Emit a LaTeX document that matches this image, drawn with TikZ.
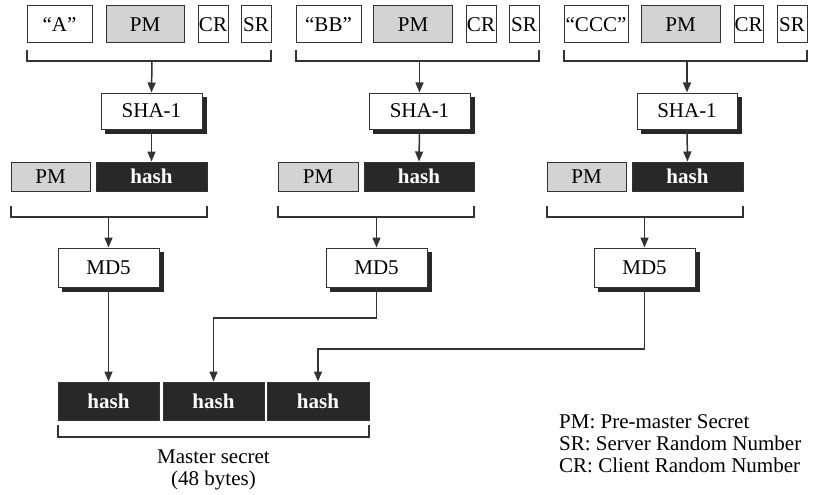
\documentclass[tikz,border=0pt]{standalone}
\usepackage{fontspec}
\setmainfont{Liberation Serif}
\usetikzlibrary{arrows.meta}
\definecolor{ln}{HTML}{333333}
\definecolor{pmgray}{HTML}{D3D3D3}
\definecolor{hashblk}{HTML}{282828}
\pgfdeclarelayer{bg}
\pgfsetlayers{bg,main}
\begin{document}
\begin{tikzpicture}[x=1pt,y=-1pt,
  box/.style={draw=ln, line width=1pt, inner sep=0pt, font=\fontsize{21}{25}\selectfont},
  wbox/.style={box, fill=white},
  gbox/.style={box, fill=pmgray},
  hbox/.style={box, fill=hashblk, text=white, font=\fontsize{21}{25}\selectfont\bfseries},
  funcbox/.style={wbox},
  shadowfill/.style={fill=hashblk},
  arr/.style={draw=ln, line width=1.5pt, -{Triangle[length=10pt,width=8pt]}},
  brk/.style={draw=ln, line width=2pt},
  lbl/.style={inner sep=0pt, font=\fontsize{21}{25}\selectfont}]
\useasboundingbox (0,0) rectangle (814,495);

% ---------- group 1 ----------
\node[wbox, minimum width=65pt, minimum height=37pt] (q1) at (59.5,24.5) {“A”};
\node[gbox, minimum width=78pt, minimum height=37pt] (pm1) at (145,24.5) {PM};
\node[wbox, minimum width=30pt, minimum height=37pt] (cr1) at (213,24.5) {CR};
\node[wbox, minimum width=30pt, minimum height=37pt] (sr1) at (256,24.5) {SR};
\draw[brk] (27,50) -- (27,61) -- (271,61) -- (271,50);
\coordinate (b1) at (152,61);
\node[funcbox, minimum width=101pt, minimum height=36pt] (sha1) at (151.5,111) {SHA-1};
\node[gbox, minimum width=79pt, minimum height=29pt] (p1) at (50.5,176.5) {PM};
\node[hbox, minimum width=111pt, minimum height=29pt] (h1) at (151.5,176.5) {hash};
\draw[brk] (11,206) -- (11,217) -- (207,217) -- (207,206);
\coordinate (c1) at (108.5,217);
\node[funcbox, minimum width=101pt, minimum height=39pt] (md1) at (108.5,267.5) {MD5};

% ---------- group 2 ----------
\node[wbox, minimum width=65pt, minimum height=37pt] (q2) at (328.5,24.5) {“BB”};
\node[gbox, minimum width=79pt, minimum height=37pt] (pm2) at (413,24.5) {PM};
\node[wbox, minimum width=30pt, minimum height=37pt] (cr2) at (481,24.5) {CR};
\node[wbox, minimum width=30pt, minimum height=37pt] (sr2) at (524,24.5) {SR};
\draw[brk] (296,50) -- (296,61) -- (539,61) -- (539,50);
\coordinate (b2) at (419.5,61);
\node[funcbox, minimum width=101pt, minimum height=36pt] (sha2) at (419.5,111) {SHA-1};
\node[gbox, minimum width=80pt, minimum height=29pt] (p2) at (318,176.5) {PM};
\node[hbox, minimum width=110pt, minimum height=29pt] (h2) at (419,176.5) {hash};
\draw[brk] (278,206) -- (278,217) -- (474,217) -- (474,206);
\coordinate (c2) at (376.5,217);
\node[funcbox, minimum width=101pt, minimum height=39pt] (md2) at (376.5,267.5) {MD5};

% ---------- group 3 ----------
\node[wbox, minimum width=64pt, minimum height=37pt] (q3) at (596,24.5) {“CCC”};
\node[gbox, minimum width=79pt, minimum height=37pt] (pm3) at (680.5,24.5) {PM};
\node[wbox, minimum width=29pt, minimum height=37pt] (cr3) at (748.5,24.5) {CR};
\node[wbox, minimum width=30pt, minimum height=37pt] (sr3) at (792,24.5) {SR};
\draw[brk] (564,50) -- (564,61) -- (807,61) -- (807,50);
\coordinate (b3) at (687,61);
\node[funcbox, minimum width=100pt, minimum height=36pt] (sha3) at (687,111) {SHA-1};
\node[gbox, minimum width=79pt, minimum height=29pt] (p3) at (586.5,176.5) {PM};
\node[hbox, minimum width=111pt, minimum height=29pt] (h3) at (687.5,176.5) {hash};
\draw[brk] (547,206) -- (547,217) -- (743,217) -- (743,206);
\coordinate (c3) at (644.5,217);
\node[funcbox, minimum width=101pt, minimum height=39pt] (md3) at (644.5,267.5) {MD5};

% ---------- shadows of the function boxes ----------
\begin{pgfonlayer}{bg}
\foreach \n in {sha1,sha2,sha3,md1,md2,md3}{
  \fill[shadowfill] ([shift={(4pt,-4pt)}]\n.south west) rectangle ([shift={(4pt,-4pt)}]\n.north east);
}
\end{pgfonlayer}

% ---------- master secret ----------
\node[hbox, minimum width=101pt, minimum height=38pt] (f1) at (108.5,401) {hash};
\node[hbox, minimum width=101pt, minimum height=38pt] (f2) at (213.5,401) {hash};
\node[hbox, minimum width=102pt, minimum height=38pt] (f3) at (318,401) {hash};
\draw[brk] (58,425) -- (58,437) -- (369,437) -- (369,425);
\node[lbl, anchor=base] (ms1) at (213.5,463) {Master secret};
\node[lbl, anchor=base] (ms2) at (213.5,485) {(48 bytes)};

% ---------- connectors ----------
\draw[arr] (b1) -- (sha1.north);
\draw[arr] (b2) -- (sha2.north);
\draw[arr] (b3) -- (sha3.north);
\draw[arr] (sha1.south) -- (h1.north);
\draw[arr] (sha2.south) -- (h2.north);
\draw[arr] (sha3.south) -- (h3.north);
\draw[arr] (c1) -- (md1.north);
\draw[arr] (c2) -- (md2.north);
\draw[arr] (c3) -- (md3.north);
\coordinate (j2) at (213.5,318);
\coordinate (j3) at (318,349);
\draw[arr] (md1.south) -- (f1.north);
\draw[arr] (md2.south) |- (j2) -- (f2.north);
\draw[arr] (md3.south) |- (j3) -- (f3.north);

% ---------- legend ----------
\node[lbl, anchor=base west] (lg1) at (559,428) {PM: Pre-master Secret};
\node[lbl, anchor=base west] (lg2) at (559,450) {SR: Server Random Number};
\node[lbl, anchor=base west] (lg3) at (559,472) {CR: Client Random Number};
\end{tikzpicture}
\end{document}
